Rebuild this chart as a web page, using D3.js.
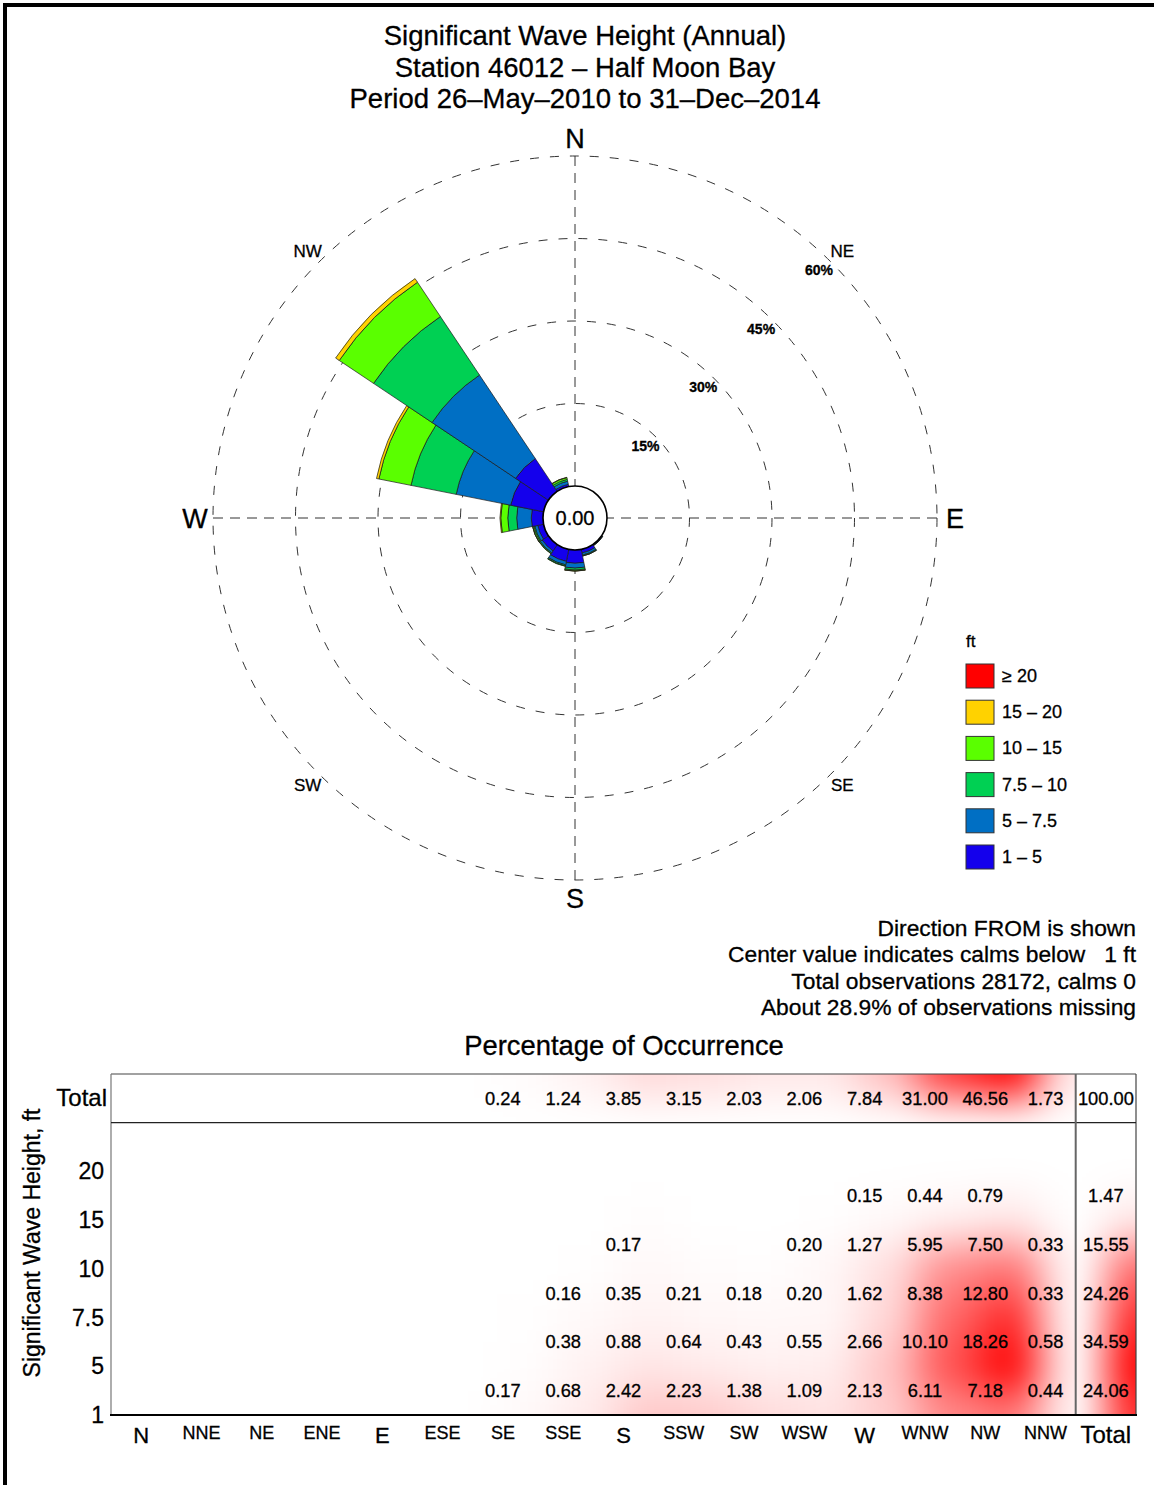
<!DOCTYPE html>
<html>
<head>
<meta charset="utf-8">
<script src="https://cdn.jsdelivr.net/npm/d3@7"></script>
<style>
  html, body { margin: 0; padding: 0; background: #fff; }
  svg { display: block; font-family: "Liberation Sans", Arial, Helvetica, sans-serif; }
  svg text { stroke: #000; stroke-width: 0.3px; }
</style>
</head>
<body>
<script>
// ---------------- DATA ----------------
const titleLines = [
  "Significant Wave Height (Annual)",
  "Station 46012 \u2013 Half Moon Bay",
  "Period 26\u2013May\u20132010 to 31\u2013Dec\u20132014"
];
const directions = ["N","NNE","NE","ENE","E","ESE","SE","SSE","S","SSW","SW","WSW","W","WNW","NW","NNW"];
const binLabels = ["1 \u2013 5","5 \u2013 7.5","7.5 \u2013 10","10 \u2013 15","15 \u2013 20","\u2265 20"];
const binTicks = ["1","5","7.5","10","15","20"];
const binColors = ["#1400ec","#006fc4","#00d053","#5aff00","#ffd200","#ff0000"];
// percentage of occurrence per direction, one array per height bin
const h1to5    = [0,0,0,0,0,0,0.17,0.68,2.42,2.23,1.38,1.09,2.13,6.11,7.18,0.44];
const h5to7_5  = [0,0,0,0,0,0,0.05,0.38,0.88,0.64,0.43,0.55,2.66,10.10,18.26,0.58];
const h7_5to10 = [0,0,0,0,0,0,0.02,0.16,0.35,0.21,0.18,0.20,1.62,8.38,12.80,0.33];
const h10to15  = [0,0,0,0,0,0,0,0.02,0.17,0.07,0.04,0.20,1.27,5.95,7.50,0.33];
const h15to20  = [0,0,0,0,0,0,0,0,0.03,0,0,0.02,0.15,0.44,0.79,0.05];
const h20up    = [0,0,0,0,0,0,0,0,0,0,0,0,0,0,0,0];
const directionTotals = [0,0,0,0,0,0,0.24,1.24,3.85,3.15,2.03,2.06,7.84,31.00,46.56,1.73];
const binTotals = [24.06,34.59,24.26,15.55,1.47,0];
const grandTotal = 100.00;
const ringPercents = [15,30,45,60];
const compass8 = ["N","NE","E","SE","S","SW","W","NW"];
const notes = [
  "Direction FROM is shown",
  "Center value indicates calms below   1 ft",
  "Total observations 28172, calms 0",
  "About 28.9% of observations missing"
];
const calmValue = "0.00";
const displayThreshold = 0.15;

const series = [h1to5, h5to7_5, h7_5to10, h10to15, h15to20, h20up];

// ---------------- SETUP ----------------
const W = 1154, H = 1485;
const svg = d3.select("body").append("svg").attr("width", W).attr("height", H);
svg.append("rect").attr("width", W).attr("height", H).attr("fill", "#fff");

// page frame (top and left)
svg.append("path").attr("d", `M5,${H} L5,5 L${W},5`).attr("fill","none")
  .attr("stroke","#000").attr("stroke-width",4);

// titles
svg.append("g").selectAll("text").data(titleLines).join("text")
  .attr("x", 585).attr("y", (d,i) => 45 + i*31.5)
  .attr("text-anchor","middle").attr("font-size", 27.5).text(d => d);

// ---------------- ROSE ----------------
const cx = 575, cy = 518;
const rScale = d3.scaleLinear().domain([0, 60]).range([32, 362]);
const rose = svg.append("g").attr("transform", `translate(${cx},${cy})`);
const deg = Math.PI/180;

// crosshair
rose.append("line").attr("x1", -362).attr("x2", 362).attr("y1",0).attr("y2",0)
  .attr("stroke","#333").attr("stroke-width",1).attr("stroke-dasharray","10,7");
rose.append("line").attr("y1", -362).attr("y2", 362).attr("x1",0).attr("x2",0)
  .attr("stroke","#333").attr("stroke-width",1).attr("stroke-dasharray","10,7");
// rings
rose.selectAll("circle.ring").data(ringPercents).join("circle").attr("class","ring")
  .attr("r", d => rScale(d)).attr("fill","none").attr("stroke","#333")
  .attr("stroke-width",1).attr("stroke-dasharray","9,11");
// ring labels
rose.selectAll("text.rl").data(ringPercents).join("text").attr("class","rl")
  .attr("x", d => Math.sin(44.5*deg)*(rScale(d)-14))
  .attr("y", d => -Math.cos(44.5*deg)*(rScale(d)-14) + 5)
  .attr("text-anchor","middle").attr("font-size",14).attr("font-weight","bold")
  .text(d => d + "%");

// petals
const arc = d3.arc();
const segs = [];
directions.forEach((dir, j) => {
  let c = 0;
  series.forEach((s, i) => {
    const v = s[j];
    if (v > 0) {
      segs.push({j, i, inner: rScale(c), outer: rScale(c+v)});
      c += v;
    }
  });
});
rose.selectAll("path.seg").data(segs).join("path").attr("class","seg")
  .attr("d", d => arc({innerRadius: d.inner, outerRadius: d.outer,
      startAngle: (d.j*22.5 - 11.25)*deg, endAngle: (d.j*22.5 + 11.25)*deg}))
  .attr("fill", d => binColors[d.i]).attr("stroke","#1a1a1a").attr("stroke-width",0.7);

// calm circle
rose.append("circle").attr("r", 32).attr("fill","#fff").attr("stroke","#000").attr("stroke-width",1.6);
rose.append("text").attr("y", 7).attr("text-anchor","middle").attr("font-size",20).text(calmValue);

// compass labels
rose.selectAll("text.cp").data(compass8).join("text").attr("class","cp")
  .each(function(d, k) {
    const a = k*45*deg;
    const main = k % 2 === 0;
    const rr = main ? 380 : 378;
    const t = d3.select(this);
    t.attr("x", Math.sin(a)*rr).attr("y", -Math.cos(a)*rr + (main ? 10 : 6))
     .attr("text-anchor","middle").attr("font-size", main ? 27 : 17).text(d);
  });

// legend
const lg = svg.append("g");
lg.append("text").attr("x", 966).attr("y", 647).attr("font-size",17).text("ft");
const legendOrder = d3.range(binLabels.length).reverse();
lg.selectAll("rect").data(legendOrder).join("rect")
  .attr("x", 966).attr("y", (d,k) => 664 + k*36.2).attr("width", 28).attr("height", 24)
  .attr("fill", d => binColors[d]).attr("stroke","#333").attr("stroke-width",1);
lg.selectAll("text.ll").data(legendOrder).join("text").attr("class","ll")
  .attr("x", 1002).attr("y", (d,k) => 682 + k*36.2).attr("font-size",18)
  .text(d => binLabels[d]);

// notes
svg.append("g").selectAll("text").data(notes).join("text")
  .attr("x", 1136).attr("y", (d,i) => 936 + i*26.3).attr("text-anchor","end")
  .attr("font-size", 22.8).style("white-space","pre").text(d => d);

// ---------------- TABLE ----------------
svg.append("text").attr("x", 624).attr("y", 1055).attr("text-anchor","middle")
  .attr("font-size", 27.4).text("Percentage of Occurrence");

const cols = directions.concat(["Total"]);
const x = d3.scaleBand().domain(cols).range([111, 1136]);
const rowKeys = ["Total"].concat(binLabels.slice().reverse());
const y = d3.scaleBand().domain(rowKeys).range([1074, 1415]);
const bw = x.bandwidth(), bh = y.bandwidth();
const matTop = y(binLabels[5]), matBottom = 1415, colsRight = x("Total");

const defs = svg.append("defs");
defs.append("filter").attr("id","blur").attr("filterUnits","userSpaceOnUse")
  .attr("x",0).attr("y",950).attr("width",W).attr("height",H-950)
  .append("feGaussianBlur").attr("stdDeviation", 20);
defs.append("clipPath").attr("id","clipMat").append("rect")
  .attr("x",111).attr("y",matTop).attr("width",colsRight-111).attr("height",matBottom-matTop);
defs.append("clipPath").attr("id","clipTotRow").append("rect")
  .attr("x",111).attr("y",1074).attr("width",colsRight-111).attr("height",bh);
defs.append("clipPath").attr("id","clipTotCol").append("rect")
  .attr("x",colsRight).attr("y",matTop).attr("width",1136-colsRight).attr("height",matBottom-matTop);

const heatOpacity = r => Math.min(1, Math.pow(r, 0.8) * 1.1);

// matrix heat
const matMax = d3.max(series.flat());
const heatCells = [];
series.forEach((s, i) => s.forEach((v, j) => { if (v > 0) heatCells.push({i, j, v}); }));
svg.append("g").attr("clip-path","url(#clipMat)").append("g").attr("filter","url(#blur)")
  .selectAll("rect").data(heatCells).join("rect")
  .attr("x", d => x(directions[d.j]) + 0.4*bw)
  .attr("y", d => y(binLabels[d.i]) + 0.5*bh)
  .attr("width", d => bw + (d.j === 15 ? 60 : 0))
  .attr("height", d => bh + (d.i === 0 ? 60 : 0))
  .attr("fill","#ff0000").attr("fill-opacity", d => heatOpacity(d.v/matMax));

// total row heat
const rowMax = d3.max(directionTotals);
svg.append("g").attr("clip-path","url(#clipTotRow)").append("g").attr("filter","url(#blur)")
  .selectAll("rect").data(directionTotals.map((v,j)=>({v,j})).filter(d=>d.v>0)).join("rect")
  .attr("x", d => x(directions[d.j]) + 0.4*bw)
  .attr("y", 1074 - 60).attr("width", d => bw + (d.j===15 ? 60 : 0)).attr("height", 60 + bh*0.5)
  .attr("fill","#ff0000").attr("fill-opacity", d => heatOpacity(d.v/rowMax));

// total column heat
const colMax = d3.max(binTotals);
svg.append("g").attr("clip-path","url(#clipTotCol)").append("g").attr("filter","url(#blur)")
  .selectAll("rect").data(binTotals.map((v,i)=>({v,i})).filter(d=>d.v>0)).join("rect")
  .attr("x", colsRight + bw*0.5).attr("y", d => y(binLabels[d.i]) + 0.5*bh)
  .attr("width", 100).attr("height", d => bh + (d.i===0 ? 60 : 0))
  .attr("fill","#ff0000").attr("fill-opacity", d => heatOpacity(d.v/colMax));

// frame lines
const fr = svg.append("g");
fr.append("line").attr("x1",111).attr("x2",1136).attr("y1",1074).attr("y2",1074).attr("stroke","#444").attr("stroke-width",1.2);
fr.append("line").attr("x1",1136).attr("x2",1136).attr("y1",1074).attr("y2",1415).attr("stroke","#444").attr("stroke-width",1.2);
fr.append("line").attr("x1",111).attr("x2",111).attr("y1",1074).attr("y2",1415).attr("stroke","#777").attr("stroke-width",1.2);
fr.append("line").attr("x1",111).attr("x2",1136).attr("y1",matTop).attr("y2",matTop).attr("stroke","#222").attr("stroke-width",1.2);
fr.append("line").attr("x1",colsRight).attr("x2",colsRight).attr("y1",1074).attr("y2",1415).attr("stroke","#666").attr("stroke-width",2);
fr.append("line").attr("x1",110).attr("x2",1137).attr("y1",1415).attr("y2",1415).attr("stroke","#000").attr("stroke-width",2);

// cell values
const cellTexts = [];
series.forEach((s, i) => s.forEach((v, j) => {
  if (v >= displayThreshold) cellTexts.push({x: x(directions[j]) + bw/2, y: y(binLabels[i]) + bh/2, t: v.toFixed(2)});
}));
directionTotals.forEach((v, j) => { if (v > 0) cellTexts.push({x: x(directions[j]) + bw/2, y: y("Total") + bh/2, t: v.toFixed(2)}); });
binTotals.forEach((v, i) => { if (v > 0) cellTexts.push({x: x("Total") + bw/2, y: y(binLabels[i]) + bh/2, t: v.toFixed(2)}); });
cellTexts.push({x: x("Total") + bw/2, y: y("Total") + bh/2, t: grandTotal.toFixed(2)});
svg.append("g").selectAll("text").data(cellTexts).join("text")
  .attr("x", d => d.x).attr("y", d => d.y + 6.5).attr("text-anchor","middle")
  .attr("font-size", 18.3).text(d => d.t);

// column labels
const bigCols = ["N","E","S","W","Total"];
svg.append("g").selectAll("text").data(cols).join("text")
  .attr("x", d => x(d) + bw/2)
  .attr("y", d => bigCols.includes(d) ? 1443 : 1439)
  .attr("text-anchor","middle")
  .attr("font-size", d => d === "Total" ? 24 : (bigCols.includes(d) ? 22 : 18))
  .text(d => d);

// row labels
svg.append("text").attr("x", 107).attr("y", y("Total") + bh/2 + 8)
  .attr("text-anchor","end").attr("font-size", 24).text("Total");
svg.append("g").selectAll("text").data(binTicks).join("text")
  .attr("x", 104).attr("y", (d,i) => matBottom - i*bh + 8)
  .attr("text-anchor","end").attr("font-size", 23).text(d => d);

svg.append("text").attr("transform", "translate(40,1243) rotate(-90)")
  .attr("text-anchor","middle").attr("font-size", 23).text("Significant Wave Height, ft");
</script>
</body>
</html>
